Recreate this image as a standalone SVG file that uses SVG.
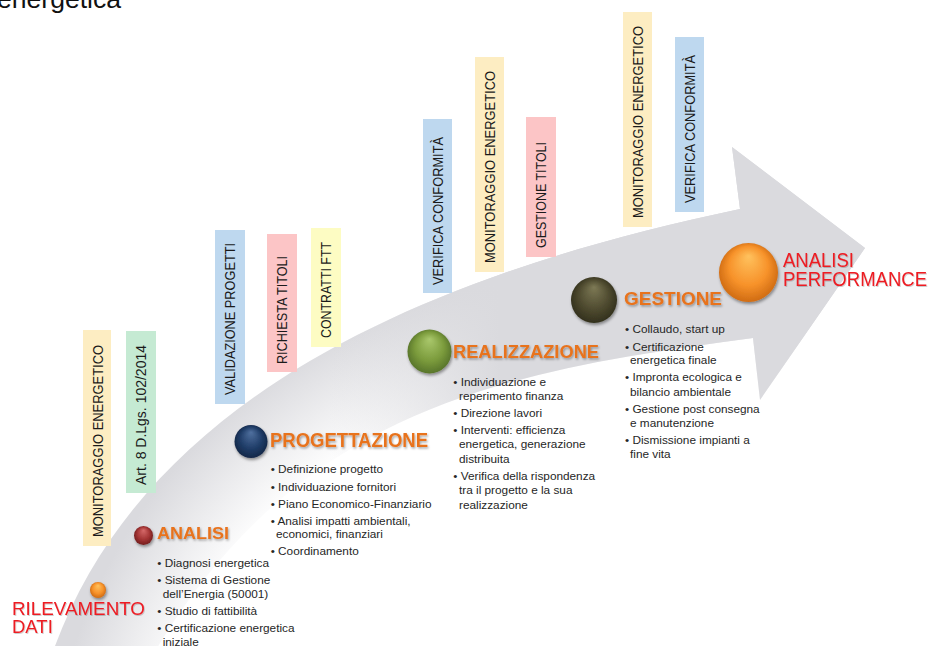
<svg xmlns="http://www.w3.org/2000/svg" width="928" height="646" viewBox="0 0 928 646">
<style>
.bar text{font-family:"Liberation Sans",Arial,sans-serif;font-size:14px;fill:#1a1a1a}
.bul{font-family:"Liberation Sans",Arial,sans-serif;font-size:11.8px;fill:#262626}
.head{font-family:"Liberation Sans",Arial,sans-serif;font-weight:bold;fill:#e8731e;filter:url(#ts)}
.red{font-family:"Liberation Sans",Arial,sans-serif;fill:#ed1c24;filter:url(#ts2)}
.yel{fill:#fdedc2}.grn{fill:#c5ead3}.blu{fill:#bed8ef}.pnk{fill:#fcc5c6}.lem{fill:#fdfcc3}
.sph{filter:url(#ds)}
</style>
<defs>
<radialGradient id="af" gradientUnits="userSpaceOnUse" cx="586" cy="817" r="600">
<stop offset="0.72" stop-color="#ffffff"/>
<stop offset="0.9" stop-color="#dadade"/>
</radialGradient>
<linearGradient id="ax" gradientUnits="userSpaceOnUse" x1="330" y1="0" x2="500" y2="0">
<stop offset="0" stop-color="#dadade" stop-opacity="0"/>
<stop offset="1" stop-color="#dadade" stop-opacity="1"/>
</linearGradient>
<filter id="ts" x="-10%" y="-30%" width="120%" height="160%"><feDropShadow dx="1" dy="1.5" stdDeviation="0.8" flood-color="#000" flood-opacity="0.35"/></filter>
<filter id="ts2" x="-10%" y="-30%" width="120%" height="160%"><feDropShadow dx="0.8" dy="1" stdDeviation="0.6" flood-color="#000" flood-opacity="0.2"/></filter>
<filter id="ds" x="-40%" y="-40%" width="180%" height="180%"><feDropShadow dx="1" dy="2" stdDeviation="1.5" flood-color="#000" flood-opacity="0.4"/></filter>
<radialGradient id="gO" cx="50%" cy="50%" r="55%" fx="50%" fy="22%"><stop offset="0" stop-color="#ffc25e"/><stop offset="0.6" stop-color="#f7922a"/><stop offset="1" stop-color="#c9650f"/></radialGradient>
<radialGradient id="gR" cx="50%" cy="50%" r="55%" fx="50%" fy="22%"><stop offset="0" stop-color="#d66a6a"/><stop offset="0.6" stop-color="#a33434"/><stop offset="1" stop-color="#6c1a1a"/></radialGradient>
<radialGradient id="gN" cx="50%" cy="50%" r="55%" fx="50%" fy="22%"><stop offset="0" stop-color="#4f709f"/><stop offset="0.6" stop-color="#203d68"/><stop offset="1" stop-color="#122443"/></radialGradient>
<radialGradient id="gG" cx="50%" cy="50%" r="55%" fx="50%" fy="22%"><stop offset="0" stop-color="#aac86c"/><stop offset="0.6" stop-color="#7b9b3c"/><stop offset="1" stop-color="#526e28"/></radialGradient>
<radialGradient id="gL" cx="50%" cy="50%" r="55%" fx="50%" fy="22%"><stop offset="0" stop-color="#7d7955"/><stop offset="0.6" stop-color="#4e4a2f"/><stop offset="1" stop-color="#2e2c1a"/></radialGradient>
</defs>
<rect width="928" height="646" fill="#ffffff"/>
<text x="-3" y="8" font-family="Liberation Sans,Arial,sans-serif" font-size="25" fill="#111" textLength="124" lengthAdjust="spacingAndGlyphs">energetica</text>
<g id="connectors">
<path id="arrow" d="M 50,660 C 135,410 400,280 740,209 L 732,147 L 865,248 L 760,400 L 753,338 C 520,370 300,400 150,660 Z" fill="url(#af)"/>
<path d="M 50,660 C 135,410 400,280 740,209 L 732,147 L 865,248 L 760,400 L 753,338 C 520,370 300,400 150,660 Z" fill="url(#ax)"/>
</g>
<g id="bars" class="bar">
<g id="bar1"><rect class="yel" x="83" y="330" width="28" height="216"/><text transform="translate(103,537) rotate(-90)" textLength="192" lengthAdjust="spacingAndGlyphs">MONITORAGGIO ENERGETICO</text></g>
<g id="bar2"><rect class="grn" x="126" y="331" width="30" height="162"/><text transform="translate(146,485) rotate(-90)" textLength="140" lengthAdjust="spacingAndGlyphs">Art. 8 D.Lgs. 102/2014</text></g>
<g id="bar3"><rect class="blu" x="215" y="230" width="30" height="174"/><text transform="translate(235,395) rotate(-90)" textLength="152" lengthAdjust="spacingAndGlyphs">VALIDAZIONE PROGETTI</text></g>
<g id="bar4"><rect class="pnk" x="267" y="234" width="30" height="138"/><text transform="translate(287,364) rotate(-90)" textLength="108" lengthAdjust="spacingAndGlyphs">RICHIESTA TITOLI</text></g>
<g id="bar5"><rect class="lem" x="311" y="228" width="30" height="119"/><text transform="translate(331,338) rotate(-90)" textLength="96" lengthAdjust="spacingAndGlyphs">CONTRATTI FTT</text></g>
<g id="bar6"><rect class="blu" x="423" y="119" width="29" height="174"/><text transform="translate(443,285) rotate(-90)" textLength="148" lengthAdjust="spacingAndGlyphs">VERIFICA CONFORMITÀ</text></g>
<g id="bar7"><rect class="yel" x="475" y="57" width="29" height="215"/><text transform="translate(495,263) rotate(-90)" textLength="192" lengthAdjust="spacingAndGlyphs">MONITORAGGIO ENERGETICO</text></g>
<g id="bar8"><rect class="pnk" x="526" y="117" width="30" height="140"/><text transform="translate(546,248) rotate(-90)" textLength="106" lengthAdjust="spacingAndGlyphs">GESTIONE TITOLI</text></g>
<g id="bar9"><rect class="yel" x="623" y="12" width="29" height="215"/><text transform="translate(643,218) rotate(-90)" textLength="192" lengthAdjust="spacingAndGlyphs">MONITORAGGIO ENERGETICO</text></g>
<g id="bar10"><rect class="blu" x="675" y="37" width="29" height="175"/><text transform="translate(695,203) rotate(-90)" textLength="148" lengthAdjust="spacingAndGlyphs">VERIFICA CONFORMITÀ</text></g>
</g>
<g id="node-rilevamento">
<circle class="sph" cx="98" cy="590" r="8" fill="url(#gO)"/>
<text class="red" x="12" y="615" font-size="18.5" textLength="133" lengthAdjust="spacingAndGlyphs">RILEVAMENTO</text>
<text class="red" x="12" y="633" font-size="18.5">DATI</text>
</g>
<g id="node-analisi">
<circle class="sph" cx="143.5" cy="535.5" r="9.5" fill="url(#gR)"/>
<text class="head" x="157" y="539" font-size="16.5" textLength="72" lengthAdjust="spacingAndGlyphs">ANALISI</text>
<text class="bul" x="157.3" y="567">• Diagnosi energetica</text>
<text class="bul" x="157.3" y="584">• Sistema di Gestione</text>
<text class="bul" x="162.7" y="598">dell’Energia (50001)</text>
<text class="bul" x="157.3" y="614.5">• Studio di fattibilità</text>
<text class="bul" x="157.3" y="632">• Certificazione energetica</text>
<text class="bul" x="162.7" y="645.5">iniziale</text>
</g>
<g id="node-progettazione">
<circle class="sph" cx="251" cy="441.5" r="16.5" fill="url(#gN)"/>
<text class="head" x="270" y="446.5" font-size="19.5" textLength="158" lengthAdjust="spacingAndGlyphs">PROGETTAZIONE</text>
<text class="bul" x="270.7" y="473">• Definizione progetto</text>
<text class="bul" x="270.7" y="490.5">• Individuazione fornitori</text>
<text class="bul" x="270.7" y="507.5">• Piano Economico-Finanziario</text>
<text class="bul" x="270.7" y="524.5">• Analisi impatti ambientali,</text>
<text class="bul" x="276" y="538">economici, finanziari</text>
<text class="bul" x="270.7" y="554.5">• Coordinamento</text>
</g>
<g id="node-realizzazione">
<circle class="sph" cx="429.5" cy="351.5" r="22" fill="url(#gG)"/>
<text class="head" x="453" y="358" font-size="18.5" textLength="146" lengthAdjust="spacingAndGlyphs">REALIZZAZIONE</text>
<text class="bul" x="453.3" y="386">• Individuazione e</text>
<text class="bul" x="459" y="399.5">reperimento finanza</text>
<text class="bul" x="453.3" y="416.5">• Direzione lavori</text>
<text class="bul" x="453.3" y="433.5">• Interventi: efficienza</text>
<text class="bul" x="459" y="448">energetica, generazione</text>
<text class="bul" x="459" y="462.5">distribuita</text>
<text class="bul" x="453.3" y="480">• Verifica della rispondenza</text>
<text class="bul" x="459" y="494">tra il progetto e la sua</text>
<text class="bul" x="459" y="508.5">realizzazione</text>
</g>
<g id="node-gestione">
<circle class="sph" cx="594" cy="300" r="23" fill="url(#gL)"/>
<text class="head" x="624" y="305" font-size="18.5" textLength="98" lengthAdjust="spacingAndGlyphs">GESTIONE</text>
<text class="bul" x="625" y="333">• Collaudo, start up</text>
<text class="bul" x="625" y="350.5">• Certificazione</text>
<text class="bul" x="630" y="364">energetica finale</text>
<text class="bul" x="625" y="381">• Impronta ecologica e</text>
<text class="bul" x="630" y="395.5">bilancio ambientale</text>
<text class="bul" x="625" y="412.5">• Gestione post consegna</text>
<text class="bul" x="630" y="426.5">e manutenzione</text>
<text class="bul" x="625" y="444">• Dismissione impianti a</text>
<text class="bul" x="630" y="457.5">fine vita</text>
</g>
<g id="node-performance">
<circle class="sph" cx="748.5" cy="272.5" r="29.5" fill="url(#gO)"/>
<text class="red" x="783" y="267" font-size="19.5" textLength="71" lengthAdjust="spacingAndGlyphs">ANALISI</text>
<text class="red" x="783" y="286" font-size="19.5" textLength="144" lengthAdjust="spacingAndGlyphs">PERFORMANCE</text>
</g>
</svg>
